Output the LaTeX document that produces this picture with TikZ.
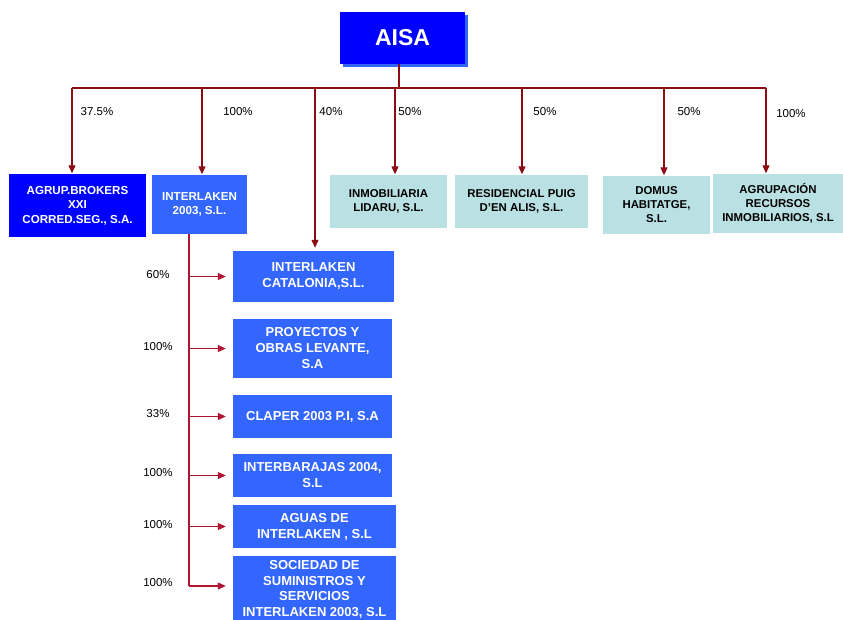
\documentclass[tikz,border=0pt]{standalone}
\usepackage{fontspec}
\setmainfont{Liberation Sans}
\usetikzlibrary{arrows.meta}
\definecolor{dred}{RGB}{140,12,20}
\definecolor{pred}{RGB}{175,20,50}
\definecolor{bblue}{RGB}{0,0,255}
\definecolor{mblue}{RGB}{51,102,255}
\definecolor{lteal}{RGB}{185,224,227}
\newcommand\cbox[7]{\node[box,#6,minimum width={#4pt-#2pt},minimum height={#5pt-#3pt}] (#1) at ({(#2+#4)/2},{(#3+#5)/2}) {#7};}
\begin{document}
\begin{tikzpicture}[x=1pt,y=-1pt,
  box/.style={inner sep=0pt, align=center, text=white, font=\bfseries\fontsize{13}{16}\selectfont},
  toprow/.style={font=\bfseries\fontsize{11.6}{14.5}\selectfont},
  tealbox/.style={fill=lteal, text=black, font=\bfseries\fontsize{11.4}{14}\selectfont},
  line/.style={draw=dred, line width=1.1pt},
  arr/.style={line, -{Triangle[length=8pt,width=7pt]}, shorten >=0.5pt},
  line2/.style={draw=pred, line width=1.1pt},
  arr2/.style={line2, -{Triangle[length=8pt,width=7pt]}, shorten >=7pt},
  lbl/.style={inner sep=0pt, font=\fontsize{11.5}{13}\selectfont}]
\useasboundingbox (0,0) rectangle (843,619);
\clip (0,0) rectangle (843,619);
\fill[white] (0,0) rectangle (843,619);
% top
\fill[mblue] (343,15) rectangle (468,67);
\cbox{aisa}{340}{12}{465}{64}{fill=bblue, font=\bfseries\fontsize{23}{26}\selectfont}{AISA}
% first level
\cbox{agrup}{9}{174}{146}{237}{fill=bblue, toprow}{AGRUP.BROKERS\\XXI\\CORRED.SEG., S.A.}
\cbox{il}{152}{175}{247}{234}{fill=mblue, toprow}{INTERLAKEN\\2003, S.L.}
\cbox{inmo}{330}{175}{447}{228}{tealbox}{INMOBILIARIA\\LIDARU, S.L.}
\cbox{resi}{455}{175}{588}{228}{tealbox}{RESIDENCIAL PUIG\\D’EN ALIS, S.L.}
\cbox{domus}{603}{176}{710}{234}{tealbox}{DOMUS\\HABITATGE,\\S.L.}
\cbox{agrec}{713}{174}{843}{233}{tealbox}{AGRUPACIÓN\\RECURSOS\\INMOBILIARIOS, S.L}
% second level
\cbox{cat}{233}{251}{394}{302}{fill=mblue}{INTERLAKEN\\CATALONIA,S.L.}
\cbox{proy}{233}{319}{392}{378}{fill=mblue}{PROYECTOS Y\\OBRAS LEVANTE,\\S.A}
\cbox{clap}{233}{395}{392}{438}{fill=mblue}{CLAPER 2003 P.I, S.A}
\cbox{intb}{233}{454}{392}{497}{fill=mblue}{INTERBARAJAS 2004,\\S.L}
\cbox{agua}{233}{505}{396}{548}{fill=mblue}{AGUAS DE\\INTERLAKEN , S.L}
\cbox{soc}{233}{556}{396}{623}{fill=mblue, font=\bfseries\fontsize{13}{15.5}\selectfont}{SOCIEDAD DE\\SUMINISTROS Y\\SERVICIOS\\INTERLAKEN 2003, S.L}
% bus
\coordinate (busL) at (72,88);
\coordinate (busR) at (766,88);
\draw[line] ([xshift=-3.5pt]aisa.south) -- ([xshift=-3.5pt]aisa.south |- busL);
\draw[line] (busL) -- (busR);
\foreach \n/\x in {agrup/72, il/202, inmo/395, resi/522, domus/664, agrec/766}{
  \coordinate (d\n) at (\x,88);
  \draw[arr] (d\n) -- (d\n |- \n.north);
}
\coordinate (dcat) at (315,88);
\draw[arr, shorten >=3pt] (dcat) -- (dcat |- cat.north);
% labels top
\node[lbl] (p1) at (97,112) {37.5\%};
\node[lbl] (p2) at (238,112) {100\%};
\node[lbl] (p3) at (331,112) {40\%};
\node[lbl] (p4) at (410,112) {50\%};
\node[lbl] (p5) at (545,112) {50\%};
\node[lbl] (p6) at (689,112) {50\%};
\node[lbl] (p7) at (791,114) {100\%};
% subsidiaries
\coordinate (vtop) at (189,234);
\coordinate (vbot) at (189,586);
\draw[line2] (vtop) -- (vbot);
\foreach \n in {cat,proy,clap,intb,agua}{
  \draw[arr2] (vtop |- \n.west) -- (\n.west);
}
\draw[arr2] (vbot) -- (vbot -| soc.west);
\node[lbl] (q1) at (158,275) {60\%};
\node[lbl] (q2) at (158,347) {100\%};
\node[lbl] (q3) at (158,414) {33\%};
\node[lbl] (q4) at (158,473) {100\%};
\node[lbl] (q5) at (158,525) {100\%};
\node[lbl] (q6) at (158,583) {100\%};
\end{tikzpicture}
\end{document}
